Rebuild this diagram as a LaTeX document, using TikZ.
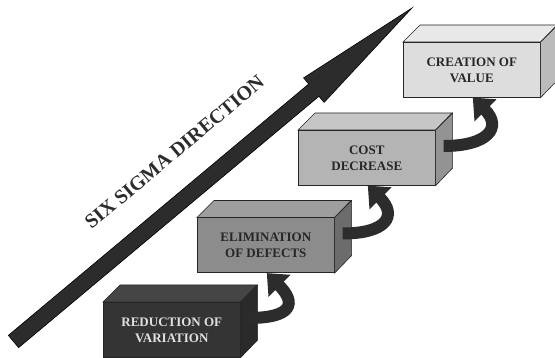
\documentclass[tikz,border=0pt]{standalone}
\usepackage{fontspec}
\setmainfont{Liberation Serif}
\usetikzlibrary{arrows.meta,calc,positioning}
\definecolor{arrowgray}{HTML}{2C2C2C}
\definecolor{stepone}{HTML}{343434}
\definecolor{steponetop}{HTML}{454545}
\definecolor{steponeside}{HTML}{2A2A2A}
\definecolor{steptwo}{HTML}{8C8C8C}
\definecolor{steptwotop}{HTML}{9E9E9E}
\definecolor{steptwoside}{HTML}{6C6C6C}
\definecolor{stepthree}{HTML}{B4B4B4}
\definecolor{stepthreetop}{HTML}{C6C6C6}
\definecolor{stepthreeside}{HTML}{939393}
\definecolor{stepfour}{HTML}{DDDDDD}
\definecolor{stepfourtop}{HTML}{E8E8E8}
\definecolor{stepfourside}{HTML}{BBBBBB}
\tikzstyle{box} = [draw=black!85, line width=0.6pt, minimum width=137pt, minimum height=55pt, inner sep=0pt, anchor=north west, align=center, text=black!85, font=\fontsize{13}{16}\selectfont\bfseries]
\tikzstyle{turn} = [line width=12pt, draw=arrowgray, -{Triangle[width=30pt,length=18pt]}]
% top and right faces of a box: node, top colour, side colour
\newcommand{\boxsides}[3]{%
\draw [fill=#2, draw=black!85, line width=0.6pt] (#1.north west) -- ++(17,-17) -- ++(137,0) -- (#1.north east) -- cycle;
\draw [fill=#3, draw=black!85, line width=0.6pt] (#1.north east) -- ++(17,-17) -- ++(0,55) -- (#1.south east) -- cycle;
}

\begin{document}
\begin{tikzpicture}[x=1pt, y=-1pt]
\useasboundingbox (0,0) rectangle (555,358);
% big arrow
\coordinate (tail) at (13.5,341.5);
\coordinate (tip) at (412,8);
\coordinate (neck) at ($(tip)!128pt!(tail)$);
\filldraw [fill=arrowgray, draw=black, line width=0.6pt]
($(tail)!8pt!90:(tip)$) -- ($(neck)!8pt!90:(tip)$) -- ($(neck)!16pt!90:(tip)$)
-- (tip)
-- ($(neck)!16pt!-90:(tip)$) -- ($(neck)!8pt!-90:(tip)$) -- ($(tail)!8pt!-90:(tip)$) -- cycle;
\coordinate (mid) at ($(tail)!245pt!(tip)$);
\node (dir) [rotate=39.9, text=arrowgray, font=\fontsize{20}{20}\selectfont\bfseries] at ($(mid)!42pt!90:(tip)$) {SIX SIGMA DIRECTION};
% the four steps
\node (red) [box, fill=stepone, text=black!12] at (103,302) {REDUCTION OF\\VARIATION};
\boxsides{red}{steponetop}{steponeside}
\node (elim) [box, fill=steptwo] at (197,217.5) {ELIMINATION\\OF DEFECTS};
\boxsides{elim}{steptwotop}{steptwoside}
\node (cost) [box, fill=stepthree] at (298,130) {COST\\DECREASE};
\boxsides{cost}{stepthreetop}{stepthreeside}
\node (value) [box, fill=stepfour] at (403,42) {CREATION OF\\VALUE};
\boxsides{value}{stepfourtop}{stepfourside}
% curved arrows between steps
\draw [turn] ($(red.north east)+(8,16)$) .. controls +(44,0) and +(30,30) .. ($(elim.south)+(1,0)$);
\draw [turn] ($(elim.north east)+(8,16)$) .. controls +(44,0) and +(30,30) .. ($(cost.south)+(1,0)$);
\draw [turn] ($(cost.north east)+(8,16)$) .. controls +(44,0) and +(30,30) .. ($(value.south)+(1,0)$);
\end{tikzpicture}
\end{document}
